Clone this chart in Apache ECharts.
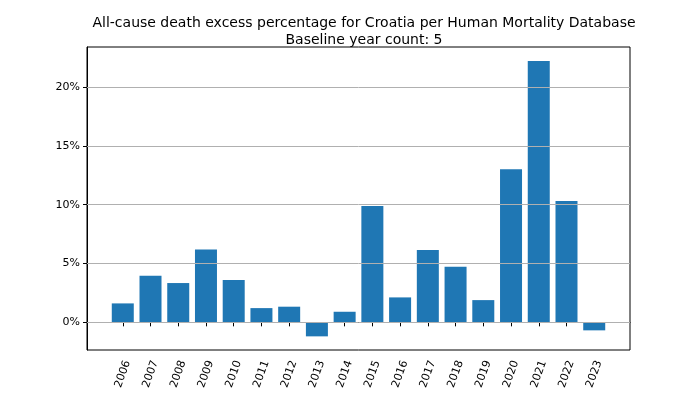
<!DOCTYPE html>
<html>
<head>
<meta charset="utf-8">
<script src="https://cdn.jsdelivr.net/npm/echarts@6/dist/echarts.min.js"></script>
<style>html,body{margin:0;padding:0;background:#fff}#c{width:700px;height:394px}</style>
</head>
<body>
<div id="c"></div>
<script>
const years = [2006,2007,2008,2009,2010,2011,2012,2013,2014,2015,2016,2017,2018,2019,2020,2021,2022,2023];
const excessPct = [1.61,3.96,3.34,6.2,3.59,1.21,1.33,-1.19,0.9,9.88,2.12,6.14,4.72,1.89,13.02,22.2,10.31,-0.68];
const yTicks = [0,5,10,15,20];
const titleLines = ['All-cause death excess percentage for Croatia per Human Mortality Database','Baseline year count: 5'];

const font = 'DejaVu Sans';
const chart = echarts.init(document.getElementById('c'), null, {renderer:'canvas'});
chart.setOption({
  animation:false,
  title:{
    text: titleLines.join('\n'),
    left: 359, top: 10, textAlign:'center',
    textStyle:{fontFamily:font,fontSize:14,fontWeight:'normal',color:'#000',lineHeight:17}
  },
  grid:{left:87,right:70,top:47,bottom:44,show:true,borderColor:'#000',borderWidth:1,backgroundColor:'transparent'},
  xAxis:{
    type:'value', min:2004.71, max:2024.29,
    axisLine:{show:true,lineStyle:{color:'#000',width:1}},
    axisTick:{show:true,customValues:years,length:4,lineStyle:{color:'#000'}},
    axisLabel:{customValues:years,rotate:70,margin:24,align:'center',verticalAlign:'middle',fontFamily:font,fontSize:11,color:'#000',formatter:v=>String(v)},
    splitLine:{show:false}
  },
  yAxis:{
    type:'value', min:-2.35, max:23.4,
    axisLine:{show:true,lineStyle:{color:'#000',width:1}},
    axisTick:{show:true,customValues:yTicks,length:4,lineStyle:{color:'#000'}},
    axisLabel:{customValues:yTicks,margin:7,fontFamily:font,fontSize:11,color:'#000',formatter:v=>v+'%'},
    splitLine:{show:false}
  },
  series:[
    {
      type:'scatter', data:[], z:1, silent:true,
      markLine:{
        silent:true, symbol:['none','none'], label:{show:false},
        lineStyle:{color:'#b0b0b0',type:'solid',width:1},
        data: yTicks.map(v=>({yAxis:v}))
      }
    },
    {
      type:'bar', z:2, barWidth:22,
      itemStyle:{color:'#1f77b4'},
      data: years.map((y,i)=>[y,excessPct[i]])
    }
  ]
});
</script>
</body>
</html>
